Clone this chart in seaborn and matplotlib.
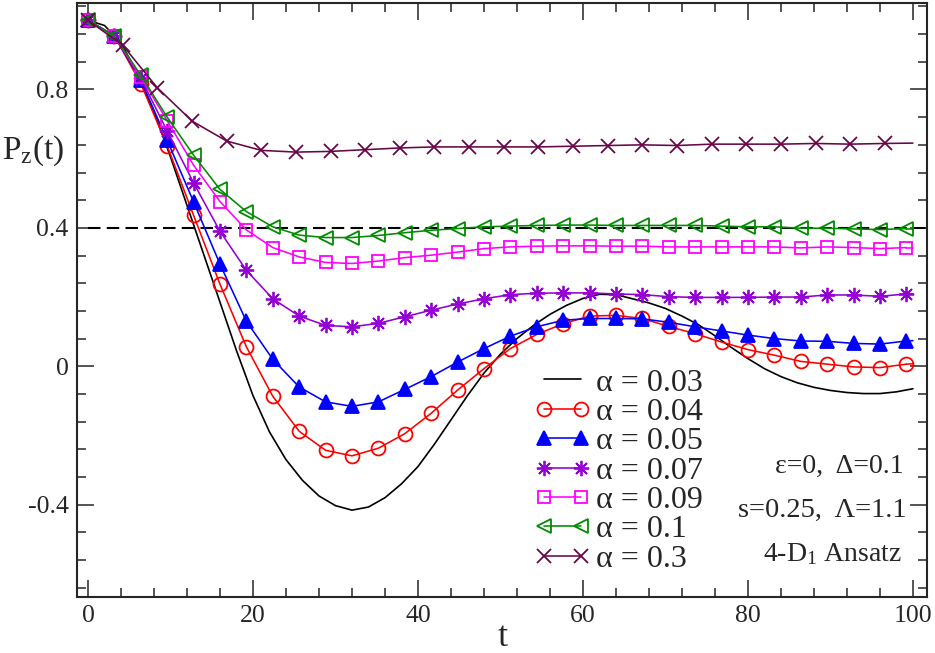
import numpy as np
import pandas as pd
import matplotlib
matplotlib.use("Agg")
import matplotlib.pyplot as plt
from matplotlib.ticker import MultipleLocator, FuncFormatter
from matplotlib.lines import Line2D
from matplotlib.legend_handler import HandlerLine2D
import seaborn as sns

# time grids of the marked points
t_fine = [0, 2, 4, 6, 8, 10, 12, 14, 16, 18, 20, 22, 24, 26, 28, 30, 32, 34, 36, 38,
          40, 42, 44, 46, 48, 50, 52, 54, 56, 58, 60, 62, 64, 66, 68, 70, 72, 74, 76, 78,
          80, 82, 84, 86, 88, 90, 92, 94, 96, 98, 100]
t_32 = [0, 3.2, 6.4, 9.6, 12.8, 16, 19.2, 22.4, 25.6, 28.8, 32, 35.2, 38.4, 41.6, 44.8, 48,
        51.2, 54.4, 57.6, 60.8, 64, 67.2, 70.4, 73.6, 76.8, 80, 83.2, 86.4, 89.6, 92.8, 96, 99.2]
t_42 = [0, 4.2, 8.4, 12.6, 16.8, 21, 25.2, 29.4, 33.6, 37.8, 42, 46.2, 50.4, 54.6, 58.8, 63,
        67.2, 71.4, 75.6, 79.8, 84, 88.2, 92.4, 96.6]
t_end = 100

p_003 = [1.0, 0.985, 0.935, 0.845, 0.735, 0.605, 0.465, 0.325, 0.185, 0.045, -0.085, -0.19,
         -0.27, -0.33, -0.375, -0.403, -0.416, -0.407, -0.38, -0.34, -0.29, -0.225,
         -0.155, -0.085, -0.02, 0.035, 0.08, 0.118, 0.15, 0.176, 0.196, 0.208, 0.207, 0.195,
         0.183, 0.167, 0.145, 0.12, 0.088, 0.054, 0.022, -0.007, -0.03, -0.048, -0.061,
         -0.07, -0.076, -0.079, -0.079, -0.074, -0.065]
p_004 = [1.0, 0.955, 0.817, 0.637, 0.436, 0.237, 0.056, -0.087, -0.188, -0.243, -0.259,
         -0.237, -0.195, -0.136, -0.069, -0.007, 0.051, 0.092, 0.123, 0.145, 0.147, 0.138,
         0.115, 0.094, 0.070, 0.048, 0.032, 0.014, 0.006, -0.002, -0.004, 0.006]
p_005 = [1.0, 0.955, 0.827, 0.653, 0.475, 0.295, 0.13, 0.02, -0.06, -0.103, -0.116, -0.103,
         -0.067, -0.03, 0.012, 0.051, 0.087, 0.114, 0.133, 0.138, 0.138, 0.137, 0.127,
         0.114, 0.102, 0.09, 0.08, 0.073, 0.072, 0.066, 0.064, 0.073]
p_007 = [1.0, 0.955, 0.832, 0.68, 0.53, 0.39, 0.277, 0.195, 0.145, 0.118, 0.114, 0.124,
         0.143, 0.162, 0.180, 0.195, 0.207, 0.211, 0.212, 0.212, 0.209, 0.207, 0.201,
         0.199, 0.199, 0.199, 0.200, 0.200, 0.206, 0.206, 0.202, 0.209]
p_009 = [1.0, 0.955, 0.836, 0.71, 0.581, 0.476, 0.394, 0.343, 0.316, 0.300, 0.297, 0.304,
         0.314, 0.321, 0.330, 0.340, 0.345, 0.347, 0.348, 0.348, 0.347, 0.347, 0.345,
         0.345, 0.345, 0.345, 0.345, 0.342, 0.345, 0.343, 0.340, 0.343]
p_01 = [1.0, 0.955, 0.841, 0.72, 0.61, 0.511, 0.447, 0.403, 0.379, 0.372, 0.372, 0.378,
        0.386, 0.393, 0.398, 0.403, 0.405, 0.407, 0.408, 0.408, 0.407, 0.407, 0.407,
        0.407, 0.405, 0.403, 0.403, 0.399, 0.399, 0.397, 0.395, 0.398]
p_03 = [1.0, 0.928, 0.805, 0.709, 0.651, 0.624, 0.619, 0.621, 0.626, 0.631, 0.634, 0.634,
        0.634, 0.634, 0.636, 0.638, 0.640, 0.638, 0.642, 0.642, 0.642, 0.644, 0.642, 0.644]
# line values at t = 100 (lines run a little past the last marker)
end_vals = [0.007, 0.074, 0.209, 0.343, 0.398, 0.645]

labels = ["α = 0.03", "α = 0.04", "α = 0.05", "α = 0.07", "α = 0.09", "α = 0.1", "α = 0.3"]

sns.set_style("ticks")
plt.rcParams["font.family"] = ["Liberation Serif", "DejaVu Serif"]
plt.rcParams["mathtext.fontset"] = "custom"
plt.rcParams["mathtext.rm"] = "Liberation Serif"
plt.rcParams["mathtext.it"] = "Liberation Serif:italic"
plt.rcParams["axes.unicode_minus"] = False

fig = plt.figure(figsize=(9.35, 6.53), dpi=100)
ax = fig.add_axes([0.0824, 0.0858, 0.909, 0.9096])

lw = 1.15
sns.lineplot(x=t_fine, y=p_003, ax=ax, color="black", lw=1.2, label=labels[0], errorbar=None)

styles = [
    (t_32, p_004, "red", dict(marker="o", markersize=10, markerfacecolor="none")),
    (t_32, p_005, "blue", dict(marker="^", markersize=10.5, markerfacecolor="blue")),
    (t_32, p_007, "#9400d3", dict(marker=(8, 2, 0), markersize=11, markerfacecolor="none")),
    (t_32, p_009, "magenta", dict(marker="s", markersize=9, markerfacecolor="none")),
    (t_32, p_01, "#008b00", dict(marker="<", markersize=10.5, markerfacecolor="none")),
    (t_42, p_03, "#670748", dict(marker="x", markersize=10, markerfacecolor="none")),
]
for (tt, yy, col, mk), lab, yend in zip(styles, labels[1:], end_vals):
    sns.lineplot(x=tt, y=yy, ax=ax, color=col, lw=lw, label=lab, errorbar=None,
                 markeredgecolor=col, markeredgewidth=1.3, **mk)
    sns.lineplot(x=[tt[-1], t_end], y=[yy[-1], yend], ax=ax, color=col, lw=lw,
                 errorbar=None, legend=False)

xlim = (-1.33, 101.7)
ax.set_xlim(*xlim)
ax.set_ylim(-0.667, 1.05)
ax.axhline(0.4, xmin=(0 - xlim[0]) / (xlim[1] - xlim[0]), color="black", lw=1.5,
           dashes=(6, 3), zorder=1)

ax.xaxis.set_major_locator(MultipleLocator(20))
ax.xaxis.set_minor_locator(MultipleLocator(4))
ax.yaxis.set_major_locator(MultipleLocator(0.4))
ax.yaxis.set_minor_locator(MultipleLocator(0.08))
ax.yaxis.set_major_formatter(FuncFormatter(lambda v, p: "%g" % round(v, 3)))
ax.tick_params(which="both", direction="in", top=True, right=True, width=1.1,
               labelsize=18.5, pad=6)
ax.tick_params(which="major", length=12)
ax.tick_params(which="minor", length=6.5)
for sp in ax.spines.values():
    sp.set_linewidth(1.5)

ax.set_xlabel("t", fontsize=26, va="baseline")
ax.xaxis.set_label_coords(0.501, -0.083)
ax.set_ylabel(r"P$_\mathrm{z}$(t)", fontsize=24, rotation=0, ha="center", va="center")
ax.yaxis.set_label_coords(-0.052, 0.752)

ax.legend(loc="upper left", bbox_to_anchor=(0.55, 0.385), frameon=False, fontsize=23,
          numpoints=2, handlelength=1.15, handletextpad=0.45, labelspacing=0.0,
          borderpad=0, borderaxespad=0,
          handler_map={Line2D: HandlerLine2D(marker_pad=0)})

ax.text(0.972, 0.219, "ε=0,  Δ=0.1", transform=ax.transAxes, ha="right", va="center",
        fontsize=20)
ax.text(0.976, 0.146, "s=0.25,  Λ=1.1", transform=ax.transAxes, ha="right", va="center",
        fontsize=20.5)
ax.text(0.970, 0.072, r"4-D$_1$ Ansatz", transform=ax.transAxes, ha="right", va="center",
        fontsize=20)

fig.savefig("out.png", dpi=100)
